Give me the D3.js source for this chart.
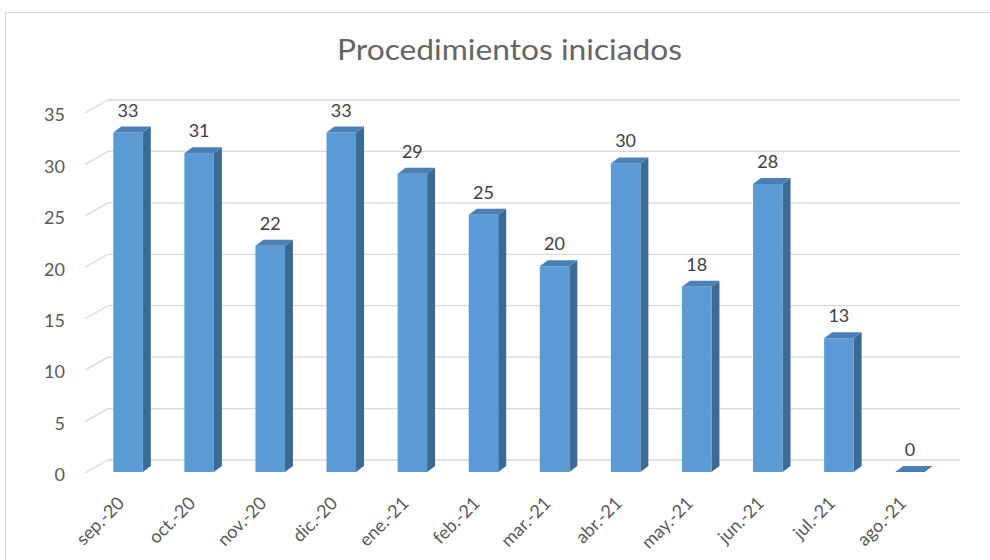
<!DOCTYPE html>
<html lang="es">
<head>
<meta charset="utf-8">
<title>Procedimientos iniciados</title>
<script src="https://d3js.org/d3.v7.min.js"></script>
<style>
  body { margin: 0; background: #fff; }
  text { font-family: Lato, "Open Sans", sans-serif; }
</style>
</head>
<body>
<script>
// data
const months = ["sep.-20", "oct.-20", "nov.-20", "dic.-20", "ene.-21", "feb.-21",
                "mar.-21", "abr.-21", "may.-21", "jun.-21", "jul.-21", "ago.-21"];
const counts = [33, 31, 22, 33, 29, 25, 20, 30, 18, 28, 13, 0];
const yTicks = [0, 5, 10, 15, 20, 25, 30, 35];

const width = 990, height = 560;
const svg = d3.select("body").append("svg")
  .attr("width", width)
  .attr("height", height);

// chart frame
svg.append("rect")
  .attr("x", 5.5).attr("y", 12.5)
  .attr("width", 1000).attr("height", 600)
  .attr("fill", "#fff").attr("stroke", "#d9d9d9");

// title (excel picture is a bit stretched horizontally)
svg.append("text")
  .attr("x", 509.5).attr("y", 60)
  .attr("text-anchor", "middle")
  .attr("font-size", 28)
  .attr("textLength", 345)
  .attr("lengthAdjust", "spacingAndGlyphs")
  .attr("fill", "#656565")
  .text("Procedimientos iniciados");

// scales (y is the front plane of the bars)
const x = d3.scaleBand().domain(months).range([92.5, 945.5]);
const y = d3.scaleLinear().domain([0, 35]).range([472, 112]);

// wall depth offset and bar depth offset
const wall = { dx: 23, dy: -12 };
const depth = { dx: 8, dy: -6 };
const barW = 29.5;

// gridlines on the back wall + diagonals on the side wall
const grid = svg.append("g").attr("stroke", "#d9d9d9").attr("stroke-width", 1.3);
grid.selectAll("line.back")
  .data(yTicks)
  .join("line")
  .attr("class", "back")
  .attr("x1", 85 + wall.dx).attr("x2", 960)
  .attr("y1", d => y(d) + wall.dy).attr("y2", d => y(d) + wall.dy);
grid.selectAll("line.side")
  .data(yTicks)
  .join("line")
  .attr("class", "side")
  .attr("x1", 85).attr("x2", 85 + wall.dx)
  .attr("y1", d => y(d) + 1).attr("y2", d => y(d) + wall.dy);

// y tick labels
svg.append("g").selectAll("text")
  .data(yTicks)
  .join("text")
  .attr("x", 65)
  .attr("y", d => y(d) + 3)
  .attr("dy", "0.35em")
  .attr("text-anchor", "end")
  .attr("font-size", 18)
  .attr("fill", "#595959")
  .text(d => d);

// 3d columns
const bars = svg.append("g").selectAll("g")
  .data(months.map((m, i) => ({ m, v: counts[i] })))
  .join("g");

const left = d => x(d.m) + x.bandwidth() / 2 - barW / 2;

// side face
bars.filter(d => d.v > 0).append("path")
  .attr("fill", "#3b6a95")
  .attr("d", d => {
    const x0 = left(d) + barW, yt = y(d.v), yb = y(0);
    return `M${x0},${yb}L${x0},${yt}L${x0 + depth.dx},${yt + depth.dy}L${x0 + depth.dx},${yb + depth.dy}Z`;
  });
// front face
bars.filter(d => d.v > 0).append("rect")
  .attr("fill", "#5b9bd5")
  .attr("x", left)
  .attr("y", d => y(d.v))
  .attr("width", barW)
  .attr("height", d => y(0) - y(d.v));
// top face
bars.append("path")
  .attr("fill", "#4a80b6")
  .attr("d", d => {
    const x0 = left(d), yt = y(d.v);
    return `M${x0},${yt}L${x0 + barW},${yt}L${x0 + barW + depth.dx},${yt + depth.dy}L${x0 + depth.dx},${yt + depth.dy}Z`;
  });

// value labels
bars.append("text")
  .attr("x", d => x(d.m) + x.bandwidth() / 2)
  .attr("y", d => y(d.v) - 16)
  .attr("text-anchor", "middle")
  .attr("font-size", 18)
  .attr("fill", "#404040")
  .text(d => d.v);

// x labels, rotated
svg.append("g").selectAll("text")
  .data(months)
  .join("text")
  .attr("transform", d => `translate(${x(d) + x.bandwidth() / 2 - 7},${500}) rotate(-45)`)
  .attr("text-anchor", "end")
  .attr("dy", "0.35em")
  .attr("font-size", 18)
  .attr("fill", "#595959")
  .text(d => d);
</script>
</body>
</html>
